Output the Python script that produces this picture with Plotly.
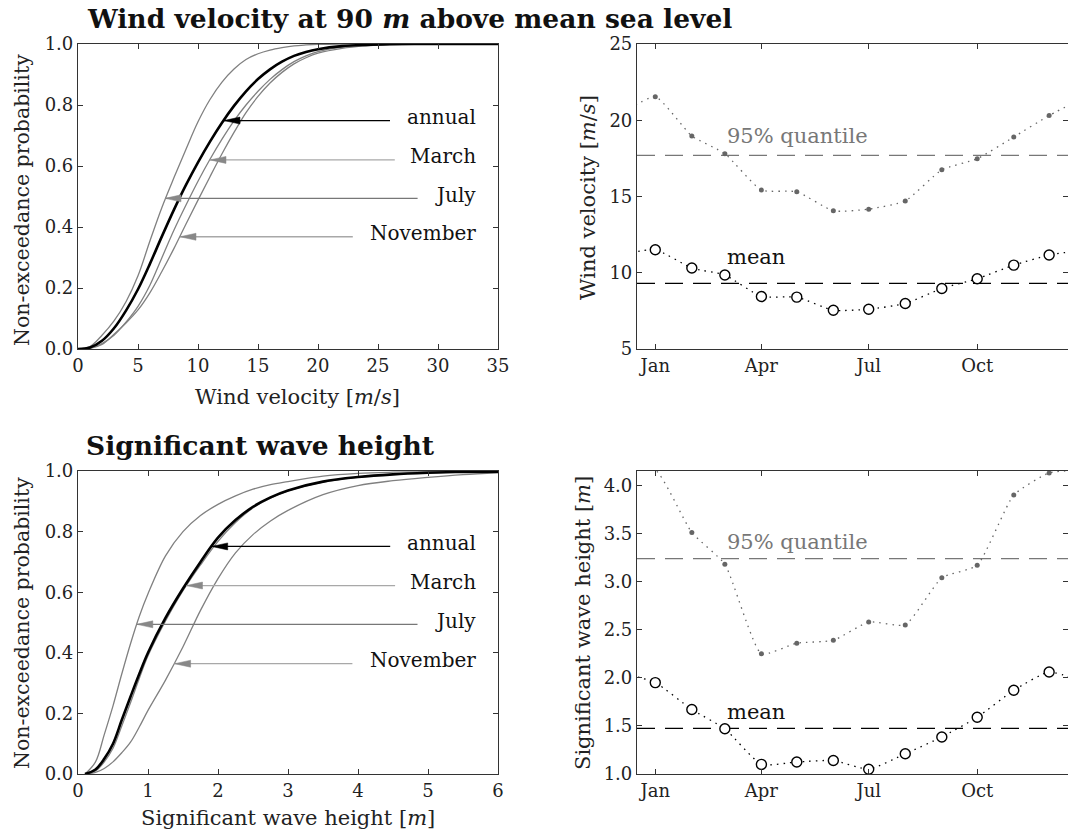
import plotly.graph_objects as go

# ---------------- data ----------------
# Wind velocity CDFs (values at fixed velocities)
wind_x = [0, 1, 2, 3, 4, 5, 6, 7, 8, 9, 10, 11, 12, 13, 14, 15, 16, 17, 18, 19, 20, 22, 24, 26, 28, 30, 35]
wind_annual_p = [0, 0.005, 0.027, 0.068, 0.126, 0.196, 0.28, 0.37, 0.457, 0.538, 0.612, 0.68, 0.742, 0.797,
                 0.845, 0.885, 0.917, 0.942, 0.961, 0.974, 0.983, 0.993, 0.997, 0.999, 1.0, 1.0, 1.0]
wind_march_p = [0, 0.003, 0.018, 0.045, 0.088, 0.14, 0.21, 0.3, 0.39, 0.472, 0.55, 0.622, 0.688, 0.748,
                0.8, 0.845, 0.884, 0.916, 0.942, 0.961, 0.975, 0.99, 0.996, 0.999, 1.0, 1.0, 1.0]
wind_july_p = [0, 0.008, 0.045, 0.092, 0.155, 0.24, 0.355, 0.465, 0.562, 0.655, 0.745, 0.818, 0.875, 0.918,
               0.949, 0.968, 0.98, 0.988, 0.994, 0.997, 0.999, 1.0, 1.0, 1.0, 1.0, 1.0, 1.0]
wind_nov_p = [0, 0.002, 0.015, 0.048, 0.085, 0.128, 0.185, 0.255, 0.33, 0.41, 0.488, 0.565, 0.64, 0.71,
              0.775, 0.828, 0.872, 0.907, 0.935, 0.955, 0.97, 0.986, 0.994, 0.998, 1.0, 1.0, 1.0]

# Significant wave height CDFs
wave_x = [0.1, 0.25, 0.375, 0.5, 0.625, 0.75, 0.875, 1.0, 1.25, 1.5, 1.75, 2.0, 2.25, 2.5, 2.75,
          3.0, 3.5, 4.0, 4.5, 5.0, 5.5, 6.0]
wave_annual_p = [0, 0.015, 0.05, 0.1, 0.178, 0.255, 0.33, 0.4, 0.515, 0.612, 0.7, 0.78, 0.838, 0.882, 0.913,
                 0.936, 0.965, 0.98, 0.989, 0.994, 0.997, 0.998]
wave_march_p = [0, 0.01, 0.04, 0.085, 0.158, 0.235, 0.315, 0.39, 0.505, 0.605, 0.69, 0.768, 0.83, 0.878, 0.91,
                0.934, 0.963, 0.98, 0.989, 0.994, 0.997, 0.998]
wave_july_p = [0, 0.04, 0.13, 0.225, 0.33, 0.43, 0.52, 0.595, 0.72, 0.8, 0.853, 0.89, 0.918, 0.94, 0.955,
               0.965, 0.983, 0.992, 0.996, 0.998, 0.999, 1.0]
wave_nov_p = [0, 0.005, 0.018, 0.04, 0.07, 0.105, 0.155, 0.21, 0.31, 0.42, 0.54, 0.645, 0.73, 0.79, 0.835,
              0.87, 0.922, 0.952, 0.968, 0.979, 0.988, 0.994]

# Monthly statistics
months = ["2015-01-01", "2015-02-01", "2015-03-01", "2015-04-01", "2015-05-01", "2015-06-01",
          "2015-07-01", "2015-08-01", "2015-09-01", "2015-10-01", "2015-11-01", "2015-12-01"]
wind_q95 = [21.54, 18.97, 17.81, 15.42, 15.31, 14.06, 14.17, 14.71, 16.75, 17.48, 18.90, 20.31]
wind_mean = [11.51, 10.31, 9.85, 8.44, 8.40, 7.54, 7.61, 7.98, 8.97, 9.61, 10.50, 11.16]
wind_q95_overall = 17.7
wind_mean_overall = 9.3
wave_q95 = [4.16, 3.51, 3.18, 2.25, 2.36, 2.39, 2.58, 2.55, 3.04, 3.17, 3.90, 4.13]
wave_mean = [1.95, 1.67, 1.47, 1.10, 1.125, 1.14, 1.05, 1.21, 1.385, 1.59, 1.87, 2.06]
wave_q95_overall = 3.24
wave_mean_overall = 1.475

labels = ["annual", "March", "July", "November"]
# arrow heads (on the curves) and tails, per panel
wind_arrow_head = [(12.16, 0.749), (11.0, 0.62), (7.25, 0.494), (8.5, 0.368)]
wind_arrow_tail_x = [26.0, 26.4, 28.3, 22.9]
wave_arrow_head = [(1.91, 0.751), (1.55, 0.622), (0.84, 0.494), (1.38, 0.364)]
wave_arrow_tail_x = [4.46, 4.53, 4.85, 3.92]

month_ticks = ["2015-01-01", "2015-04-01", "2015-07-01", "2015-10-01"]
month_tick_text = ["Jan", "Apr", "Jul", "Oct"]
date_range = ["2014-12-16 12:00", "2015-12-17"]

# ---------------- styling ----------------
FONT = "DejaVu Serif"
W, H = 1068, 836
GRAY = "#808080"

def px_x(a, b):
    return [a / W, b / W]

def px_y(top, bottom):
    return [1 - bottom / H, 1 - top / H]

fig = go.Figure()

axis_common = dict(showline=True, linecolor="#333", linewidth=1.2, mirror="ticks",
                   ticks="inside", ticklen=5, tickwidth=1, tickcolor="#333",
                   showgrid=False, zeroline=False, automargin=False,
                   tickfont=dict(family=FONT, size=18, color="#222"))

dom_left = px_x(78, 498)
dom_right = px_x(637, 1068)
dom_top = px_y(44, 349)
dom_bot = px_y(471, 774)

fig.update_layout(
    template="none",
    width=W, height=H, margin=dict(l=0, r=0, t=0, b=0, pad=0, autoexpand=False),
    paper_bgcolor="white", plot_bgcolor="white", showlegend=False,
    xaxis=dict(axis_common, domain=dom_left, anchor="y", range=[0, 35], tickvals=[0, 5, 10, 15, 20, 25, 30, 35]),
    yaxis=dict(axis_common, domain=dom_top, anchor="x", range=[0, 1], tickvals=[0, 0.2, 0.4, 0.6, 0.8, 1.0], tickformat=".1f"),
    xaxis2=dict(axis_common, domain=dom_right, anchor="y2", type="date", range=date_range,
                tickvals=month_ticks, ticktext=month_tick_text),
    yaxis2=dict(axis_common, domain=dom_top, anchor="x2", range=[5, 25], tickvals=[5, 10, 15, 20, 25]),
    xaxis3=dict(axis_common, domain=dom_left, anchor="y3", range=[0, 6], tickvals=[0, 1, 2, 3, 4, 5, 6]),
    yaxis3=dict(axis_common, domain=dom_bot, anchor="x3", range=[0, 1], tickvals=[0, 0.2, 0.4, 0.6, 0.8, 1.0], tickformat=".1f"),
    xaxis4=dict(axis_common, domain=dom_right, anchor="y4", type="date", range=date_range,
                tickvals=month_ticks, ticktext=month_tick_text),
    yaxis4=dict(axis_common, domain=dom_bot, anchor="x4", range=[1.0, 4.15],
                tickvals=[1.0, 1.5, 2.0, 2.5, 3.0, 3.5, 4.0], tickformat=".1f"),
)

# ---- CDF panels ----
def cdf(x, p, xa, ya, color, width):
    fig.add_trace(go.Scatter(x=x, y=p, mode="lines", xaxis=xa, yaxis=ya,
                             line=dict(color=color, width=width, shape="spline", smoothing=1.0),
                             hoverinfo="skip"))

for ps in [wind_march_p, wind_july_p, wind_nov_p]:
    cdf(wind_x, ps, "x", "y", GRAY, 1.3)
cdf(wind_x, wind_annual_p, "x", "y", "black", 2.6)

for ps in [wave_march_p, wave_july_p, wave_nov_p]:
    cdf(wave_x, ps, "x3", "y3", GRAY, 1.3)
cdf(wave_x, wave_annual_p, "x3", "y3", "black", 2.6)

line_colors = ["black", "#a8a8a8", "#777777", "#a8a8a8"]
head_colors = ["black", "#888888", "#888888", "#888888"]

def arrows(heads, tails, xa, ya, label_x):
    for lab, (hx, hy), tx, lc, hc in zip(labels, heads, tails, line_colors, head_colors):
        # shaft
        fig.add_shape(type="line", xref=xa, yref=ya, x0=tx, x1=hx, y0=hy, y1=hy,
                      line=dict(color=lc, width=1.3))
        # narrow triangular head, sized in pixels, anchored at the arrow tip
        fig.add_shape(type="path", xref=xa, yref=ya, xsizemode="pixel", ysizemode="pixel",
                      xanchor=hx, yanchor=hy, path="M 0 0 L 16 3.5 L 16 -3.5 Z",
                      fillcolor=hc, line=dict(color=hc, width=0.5))
        fig.add_annotation(x=label_x, y=hy + 0.012, xref=xa, yref=ya, text=lab, showarrow=False,
                           xanchor="right", yanchor="middle",
                           font=dict(family=FONT, size=20, color="#111"))

arrows(wind_arrow_head, wind_arrow_tail_x, "x", "y", 33.3)
arrows(wave_arrow_head, wave_arrow_tail_x, "x3", "y3", 5.71)

# ---- monthly panels ----
def monthly(q95, mean, q_all, m_all, xa, ya):
    xs_ext = ["2014-12-01"] + months + ["2016-01-01"]
    q_ext = [q95[-1]] + q95 + [q95[0]]
    m_ext = [mean[-1]] + mean + [mean[0]]
    fig.add_trace(go.Scatter(x=date_range, y=[q_all, q_all], mode="lines", xaxis=xa, yaxis=ya,
                             line=dict(color="#777", width=1.3, dash="18px,10px"), hoverinfo="skip"))
    fig.add_trace(go.Scatter(x=date_range, y=[m_all, m_all], mode="lines", xaxis=xa, yaxis=ya,
                             line=dict(color="black", width=1.3, dash="18px,10px"), hoverinfo="skip"))
    fig.add_trace(go.Scatter(x=xs_ext, y=q_ext, mode="lines", xaxis=xa, yaxis=ya,
                             line=dict(color="#666", width=1.3, dash="1.5px,5px", shape="spline", smoothing=0.5),
                             hoverinfo="skip"))
    fig.add_trace(go.Scatter(x=xs_ext, y=m_ext, mode="lines", xaxis=xa, yaxis=ya,
                             line=dict(color="black", width=1.3, dash="1.5px,5px", shape="spline", smoothing=0.5),
                             hoverinfo="skip"))
    fig.add_trace(go.Scatter(x=months, y=q95, mode="markers", xaxis=xa, yaxis=ya, cliponaxis=False,
                             marker=dict(color="#666", size=5, line=dict(width=0)), hoverinfo="skip"))
    fig.add_trace(go.Scatter(x=months, y=mean, mode="markers", xaxis=xa, yaxis=ya, cliponaxis=False,
                             marker=dict(color="white", size=10, symbol="circle",
                                         line=dict(color="black", width=1.4)), hoverinfo="skip"))

monthly(wind_q95, wind_mean, wind_q95_overall, wind_mean_overall, "x2", "y2")
monthly(wave_q95, wave_mean, wave_q95_overall, wave_mean_overall, "x4", "y4")

def note(text, x, y, xa, ya, color):
    fig.add_annotation(x=x, y=y, xref=xa, yref=ya, text=text, showarrow=False,
                       xanchor="left", yanchor="middle", font=dict(family=FONT, size=21, color=color))

note("95% quantile", "2015-03-01", 18.95, "x2", "y2", "#777")
note("mean", "2015-03-01", 11.0, "x2", "y2", "#111")
note("95% quantile", "2015-03-01", 3.41, "x4", "y4", "#777")
note("mean", "2015-03-01", 1.645, "x4", "y4", "#111")

# ---- titles and axis titles (paper coordinates in px) ----
def ptext(text, x, y, size, anchor="center", angle=0, color="#222"):
    fig.add_annotation(x=x / W, y=1 - y / H, xref="paper", yref="paper", text=text, showarrow=False,
                       xanchor=anchor, yanchor="middle", textangle=angle,
                       font=dict(family=FONT, size=size, color=color))

ptext("<b>Wind velocity at 90 <i>m</i> above mean sea level</b>", 85, 19, 26.5, anchor="left", color="#111")
ptext("<b>Significant wave height</b>", 84, 446, 26.5, anchor="left", color="#111")
ptext("Wind velocity [<i>m</i>/<i>s</i>]", 297, 397, 21)
ptext("Significant wave height [<i>m</i>]", 288, 818, 21)
ptext("Non-exceedance probability", 22, 200, 20.5, angle=-90)
ptext("Non-exceedance probability", 22, 623, 20.5, angle=-90)
ptext("Wind velocity [<i>m</i>/<i>s</i>]", 588, 198, 21, angle=-90)
ptext("Significant wave height [<i>m</i>]", 583, 623, 21, angle=-90)

fig.write_html("out.html")
